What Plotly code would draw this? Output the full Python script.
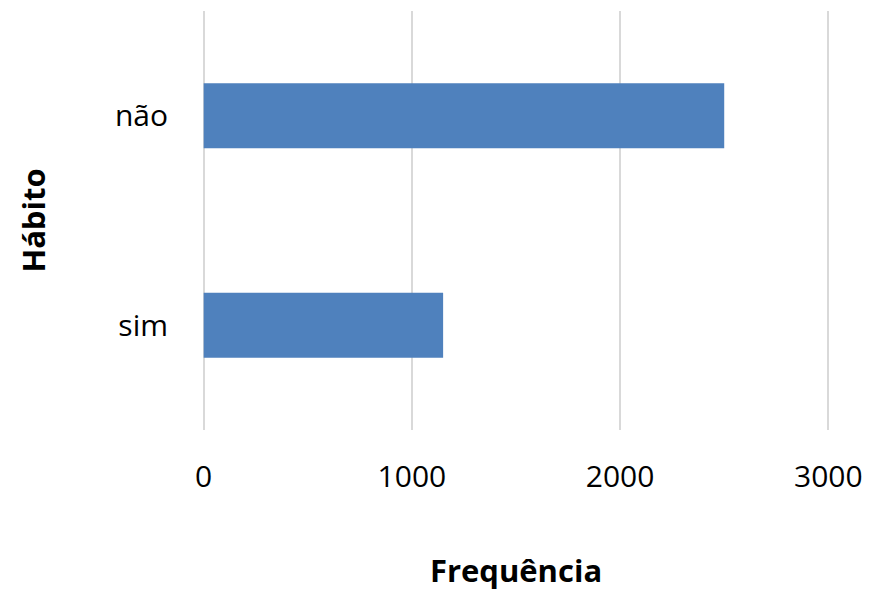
import plotly.graph_objects as go

categories = ["sim", "não"]
values = [1150, 2500]
x_ticks = [0, 1000, 2000, 3000]

fig = go.Figure(go.Bar(
    x=values, y=categories, orientation="h",
    marker=dict(color="#4F81BD", line=dict(color="#4F81BD", width=0)),
    width=0.31,
))

font_family = "'Open Sans', sans-serif"

fig.update_layout(
    width=879, height=590,
    margin=dict(l=194, r=57, t=3, b=168),
    plot_bgcolor="white", paper_bgcolor="white",
    showlegend=False,
    font=dict(family=font_family, color="#000000", size=30),
)
fig.update_xaxes(
    range=[-8, 3008], tickvals=x_ticks, ticktext=[str(v) for v in x_ticks],
    showgrid=True, gridcolor="#D9D9D9", gridwidth=1.5,
    zeroline=False, showline=False, ticks="", automargin=False,
    tickfont=dict(size=30), ticklabelstandoff=26,
    title=dict(text="<b>Frequência</b>", font=dict(size=31), standoff=65),
)
fig.update_yaxes(
    showgrid=False, zeroline=False, showline=False, ticks="", automargin=False,
    tickfont=dict(size=30), ticklabelstandoff=33,
    title=dict(text="<b>Hábito</b>", font=dict(size=31), standoff=60),
)
fig.write_html("out.html")
